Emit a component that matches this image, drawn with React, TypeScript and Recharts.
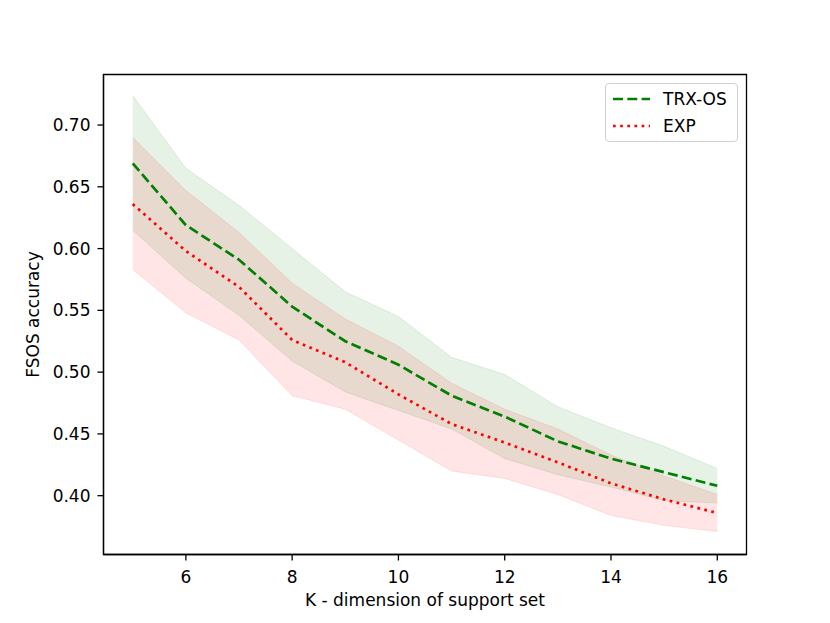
import React from 'react'
import { ComposedChart, Area, Line, XAxis, YAxis, ReferenceArea } from 'recharts'

const kValues = [5, 6, 7, 8, 9, 10, 11, 12, 13, 14, 15, 16]
const trxMean = [0.669, 0.619, 0.591, 0.553, 0.525, 0.506, 0.481, 0.464, 0.444, 0.430, 0.419, 0.408]
const trxLow = [0.615, 0.576, 0.546, 0.509, 0.484, 0.469, 0.454, 0.430, 0.417, 0.407, 0.396, 0.394]
const trxHigh = [0.724, 0.665, 0.635, 0.600, 0.565, 0.545, 0.512, 0.498, 0.472, 0.455, 0.440, 0.422]
const expMean = [0.636, 0.598, 0.569, 0.526, 0.508, 0.482, 0.458, 0.443, 0.427, 0.410, 0.397, 0.386]
const expLow = [0.583, 0.548, 0.526, 0.481, 0.470, 0.445, 0.420, 0.414, 0.401, 0.384, 0.376, 0.371]
const expHigh = [0.690, 0.647, 0.613, 0.572, 0.543, 0.521, 0.491, 0.470, 0.454, 0.433, 0.416, 0.401]

const xTicks = [6, 8, 10, 12, 14, 16]
const yTicks = [0.4, 0.45, 0.5, 0.55, 0.6, 0.65, 0.7]
const xDomain = [4.45, 16.55]
const yDomain = [0.3524, 0.7409]

const legendItems = [
  { name: 'TRX-OS', color: '#008000', dash: '10 4.3' },
  { name: 'EXP', color: '#ff0000', dash: '2.7 4.45' },
]

const rows = kValues.map((k, i) => ({
  k,
  trx: trxMean[i],
  trxBand: [trxLow[i], trxHigh[i]],
  exp: expMean[i],
  expBand: [expLow[i], expHigh[i]],
}))

const FONT = '"DejaVu Sans", sans-serif'
const tickStyle = { fill: '#000', fontSize: 17, fontFamily: FONT }

// legend box drawn as plain html on top of the chart, like matplotlib's upper right legend
function PlotLegend() {
  return (
    <div
      style={{
        position: 'absolute',
        left: 605,
        top: 83,
        width: 131,
        height: 57,
        border: '1px solid #d0d0d0',
        borderRadius: 4,
        background: 'rgba(255,255,255,0.8)',
        fontFamily: FONT,
        fontSize: 17,
      }}
    >
      {legendItems.map((it, i) => (
        <div key={it.name} style={{ position: 'absolute', left: 0, top: 4 + i * 27.4, height: 22, display: 'flex', alignItems: 'center' }}>
          <svg width={56} height={22}>
            <line x1={7} x2={44} y1={11} y2={11} stroke={it.color} strokeWidth={2.7} strokeDasharray={it.dash} />
          </svg>
          <span style={{ marginLeft: 1, color: '#000' }}>{it.name}</span>
        </div>
      ))}
    </div>
  )
}

export default function App() {
  return (
    <div style={{ position: 'absolute', left: 0, top: 0, width: 830, height: 623, background: '#fff' }}>
      <ComposedChart width={830} height={623} data={rows} margin={{ top: 74.5, right: 83.5, bottom: 0, left: 0 }}>
        <XAxis
          dataKey="k"
          type="number"
          domain={xDomain}
          ticks={xTicks}
          allowDataOverflow
          height={68.5}
          tick={tickStyle}
          tickSize={6}
          tickMargin={10}
          stroke="#000"
          strokeWidth={1.3}
          label={{
            content: () => (
              <text x={425} y={605.7} textAnchor="middle" fontFamily={FONT} fontSize={17} fill="#000">
                K - dimension of support set
              </text>
            ),
          }}
        />
        <YAxis
          type="number"
          domain={yDomain}
          ticks={yTicks}
          allowDataOverflow
          width={103.5}
          tick={tickStyle}
          tickFormatter={(v: number) => v.toFixed(2)}
          tickSize={6}
          tickMargin={7}
          stroke="#000"
          strokeWidth={1.3}
          label={{
            content: () => (
              <text x={39} y={314.5} transform="rotate(-90, 39, 314.5)" textAnchor="middle" fontFamily={FONT} fontSize={17} fill="#000">
                FSOS accuracy
              </text>
            ),
          }}
        />
        <Area type="linear" dataKey="trxBand" stroke="#008000" strokeOpacity={0.1} fill="#008000" fillOpacity={0.1} isAnimationActive={false} dot={false} activeDot={false} legendType="none" />
        <Area type="linear" dataKey="expBand" stroke="#ff0000" strokeOpacity={0.1} fill="#ff0000" fillOpacity={0.1} isAnimationActive={false} dot={false} activeDot={false} legendType="none" />
        <Line type="linear" dataKey="trx" name="TRX-OS" stroke="#008000" strokeWidth={2.7} strokeDasharray="10 4.3" dot={false} activeDot={false} isAnimationActive={false} />
        <Line type="linear" dataKey="exp" name="EXP" stroke="#ff0000" strokeWidth={2.7} strokeDasharray="2.7 4.45" dot={false} activeDot={false} isAnimationActive={false} />
        <ReferenceArea x1={xDomain[0]} x2={xDomain[1]} y1={yDomain[0]} y2={yDomain[1]} fill="none" stroke="#000" strokeWidth={1.3} strokeOpacity={1} />
      </ComposedChart>
      <PlotLegend />
    </div>
  )
}
